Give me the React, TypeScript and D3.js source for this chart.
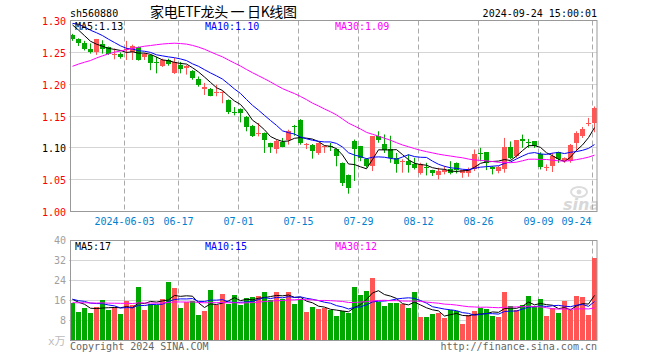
import React from 'react';
import * as d3 from 'd3';

// ---------- data ----------
const dates = [
  '05-21','05-22','05-23','05-24','05-27','05-28','05-29','05-30','05-31',
  '06-03','06-04','06-05','06-06','06-07','06-11','06-12','06-13','06-14','06-17','06-18','06-19','06-20','06-21','06-24','06-25','06-26','06-27','06-28',
  '07-01','07-02','07-03','07-04','07-05','07-08','07-09','07-10','07-11','07-12','07-15','07-16','07-17','07-18','07-19','07-22','07-23','07-24','07-25','07-26','07-29','07-30','07-31',
  '08-01','08-02','08-05','08-06','08-07','08-08','08-09','08-12','08-13','08-14','08-15','08-16','08-19','08-20','08-21','08-22','08-23','08-26','08-27','08-28','08-29','08-30',
  '09-02','09-03','09-04','09-05','09-06','09-09','09-10','09-11','09-12','09-13','09-18','09-19','09-20','09-23','09-24',
];

const opens = [1.277,1.271,1.265,1.255,1.251,1.263,1.258,1.247,1.248,1.253,
  1.251,1.258,1.243,1.246,1.2345,1.229,1.238,1.218,1.230,1.225,
  1.221,1.208,1.193,1.193,1.1855,1.186,1.1755,1.1565,1.161,1.149,
  1.135,1.122,1.123,1.1076,1.098,1.1087,1.1128,1.135,1.144,1.1045,
  1.105,1.092,1.1015,1.1028,1.098,1.076,1.057,1.111,1.1026,1.0828,
  1.0713,1.118,1.1067,1.098,1.0843,1.0785,1.079,1.074,1.0598,1.0692,
  1.065,1.0567,1.062,1.0661,1.0765,1.0598,1.061,1.0661,1.0925,1.0932,
  1.0703,1.0635,1.066,1.1016,1.087,1.1146,1.1095,1.1104,1.091,1.0695,
  1.0713,1.0937,1.079,1.079,1.1078,1.118,1.137,1.139];

const highs = [1.279,1.272,1.268,1.264,1.271,1.269,1.259,1.256,1.250,1.268,
  1.262,1.259,1.249,1.247,1.243,1.240,1.240,1.241,1.235,1.230,
  1.222,1.212,1.202,1.194,1.199,1.189,1.176,1.164,1.162,1.150,
  1.136,1.139,1.124,1.108,1.113,1.1155,1.1285,1.136,1.145,1.1076,
  1.106,1.108,1.104,1.1076,1.099,1.077,1.058,1.113,1.103,1.084,
  1.118,1.126,1.121,1.119,1.092,1.082,1.0896,1.0843,1.0765,1.0765,
  1.0655,1.0687,1.0713,1.079,1.077,1.0645,1.069,1.0974,1.100,1.0935,
  1.0713,1.0715,1.1156,1.110,1.112,1.1208,1.114,1.1106,1.093,1.074,
  1.092,1.094,1.085,1.106,1.126,1.1328,1.147,1.165];

const lows = [1.268,1.260,1.253,1.248,1.246,1.248,1.246,1.239,1.240,1.238,
  1.238,1.237,1.238,1.222,1.217,1.227,1.229,1.216,1.217,1.215,
  1.207,1.196,1.183,1.181,1.181,1.170,1.153,1.151,1.140,1.126,
  1.117,1.118,1.092,1.092,1.091,1.101,1.105,1.119,1.105,1.098,
  1.083,1.089,1.092,1.095,1.071,1.040,1.028,1.048,1.079,1.069,
  1.0635,1.108,1.092,1.0765,1.061,1.061,1.061,1.066,1.058,1.0567,
  1.0557,1.0505,1.0583,1.0583,1.0598,1.053,1.0546,1.0635,1.079,1.065,
  1.0583,1.06,1.061,1.082,1.0844,1.100,1.100,1.100,1.066,1.0635,
  1.062,1.0765,1.0765,1.0765,1.0948,1.1156,1.134,1.1245];

const closes = [1.271,1.265,1.256,1.251,1.271,1.255,1.248,1.248,1.243,1.255,
  1.260,1.238,1.248,1.233,1.2335,1.238,1.232,1.235,1.224,1.229,
  1.209,1.199,1.195,1.182,1.187,1.1875,1.156,1.1555,1.1546,1.133,
  1.118,1.123,1.113,1.102,1.110,1.102,1.127,1.134,1.1076,1.1055,
  1.0946,1.1076,1.1025,1.102,1.0867,1.045,1.037,1.098,1.0843,1.0713,
  1.118,1.113,1.097,1.084,1.074,1.079,1.073,1.0687,1.074,1.0687,
  1.0598,1.0635,1.065,1.061,1.065,1.0645,1.0672,1.0896,1.092,1.0765,
  1.0675,1.0703,1.1016,1.0844,1.112,1.110,1.1088,1.1026,1.070,1.0698,
  1.0869,1.0817,1.084,1.104,1.1234,1.1297,1.139,1.1625];

// volume, in 万 (10k)
const volumes = [15.2,11.4,13.0,11.0,13.4,16.1,12.1,13.4,10.5,15.7,
  14.1,21.4,12.1,14.8,14.4,16.5,23.3,21.1,13.0,15.5,
  15.7,10.1,11.7,20.1,14.4,18.5,14.6,18.1,14.1,17.1,
  17.5,17.7,19.5,16.1,19.3,16.8,19.3,14.8,16.5,11.3,
  13.5,12.5,13.0,12.1,9.7,11.7,11.0,21.4,18.1,19.7,
  24.9,15.5,13.7,15.0,15.0,14.5,13.0,19.3,9.3,9.3,
  10.5,10.9,8.9,12.1,11.7,6.5,10.1,11.7,12.9,12.5,
  9.9,9.3,19.3,13.7,12.1,14.1,17.7,13.7,16.5,9.7,
  12.9,10.9,15.7,12.1,17.7,17.3,10.1,32.9];

// sessions before the visible window (needed for the moving averages)
const priorCloses = [1.16,1.17,1.17,1.15,1.155,1.155,1.17,1.185,1.195,1.19,
  1.195,1.197,1.20,1.195,1.205,1.21,1.22,1.24,1.255,1.27,
  1.28,1.295,1.305,1.31,1.30,1.305,1.30,1.295,1.294];
const priorVolumes = [13,12,14,15,13,16,14,12,15,17,
  14,13,16,15,14,18,15,13,16,14,
  17,16,18,15,16.5,17.4,17,19,13.9];

const tickDates = ['06-03','06-17','07-01','07-15','07-29','08-12','08-26','09-09','09-24'];
const tickLabels = ['2024-06-03','06-17','07-01','07-15','07-29','08-12','08-26','09-09','09-24'];
const priceTicks = [1.30,1.25,1.20,1.15,1.10,1.05,1.00];
const volumeTicks = [40,32,24,16,8];
const maPeriods = [5,10,30];
const maColors = ['#000000','#0000ff','#ff00ff'];
const priceMaLabels = ['MA5:1.13','MA10:1.10','MA30:1.09'];
const volumeMaLabels = ['MA5:17','MA10:15','MA30:12'];

const RED = '#ff5555';
const GREEN = '#00a800';
const MONO = "'DejaVu Sans Mono', monospace";

function movingAverage(prior: number[], values: number[], n: number): number[] {
  const all = prior.concat(values);
  const off = prior.length;
  return values.map((_, i) => d3.mean(all.slice(off + i - n + 1, off + i + 1)) as number);
}

export default function App() {
  const left = 69.5, right = 597.5;
  const x = d3.scaleBand<string>().domain(dates).range([left, right]).paddingInner(1 / 6).paddingOuter(1 / 12);
  const bw = x.bandwidth();
  const cx = (d: string) => (x(d) as number) + bw / 2;
  const yP = d3.scaleLinear().domain([1.0, 1.3]).range([211.5, 20.5]);
  const yV = d3.scaleLinear().domain([0, 40]).range([340.5, 240.5]);
  const crisp = (v: number) => Math.round(v - 0.5) + 0.5;

  const priceMAs = maPeriods.map((n) => movingAverage(priorCloses, closes, n));
  const volMAs = maPeriods.map((n) => movingAverage(priorVolumes, volumes, n));
  const lineP = d3.line<number>().x((_, i) => cx(dates[i])).y((v) => yP(v));
  const lineV = d3.line<number>().x((_, i) => cx(dates[i])).y((v) => yV(v));

  const pTop = yP(1.3), pBot = yP(1.0), vTop = yV(40), vBot = yV(0);

  return (
    <svg width={660} height={360} style={{ position: 'absolute', left: 0, top: 0, background: '#fff' }}
      fontFamily={MONO} fontSize={10}>
      <rect x={0} y={0} width={660} height={360} fill="#fff" />
      <defs>
        <clipPath id="pclip"><rect x={left} y={pTop} width={right - left} height={pBot - pTop} /></clipPath>
        <clipPath id="vclip"><rect x={left} y={vTop} width={right - left} height={vBot - vTop} /></clipPath>
      </defs>

      {/* header */}
      <text x={70} y={16.5} fill="#000">sh560880</text>
      <text x={150} y={17} fill="#000" fontSize={14} fontFamily="'Noto Sans CJK SC', sans-serif"
        textLength={147} lengthAdjust="spacing">家电ETF龙头 一 日K线图</text>
      <text x={597} y={16.5} fill="#000" textAnchor="end">2024-09-24 15:00:01</text>

      {/* watermark */}
      <g clipPath="url(#pclip)" fill="none" stroke="#dcdcdc">
        <ellipse cx={579} cy={192} rx={8} ry={5} strokeWidth={2} />
        <circle cx={579} cy={192} r={2} fill="#dcdcdc" />
        <text x={563} y={210} fontSize={16} fontStyle="italic" fontWeight="bold" fill="#d8d8d8" stroke="none"
          fontFamily="'DejaVu Sans', sans-serif">sina</text>
      </g>

      {/* price grid */}
      {priceTicks.slice(1, -1).map((t) => (
        <line key={'pg' + t} x1={left} x2={right} y1={crisp(yP(t))} y2={crisp(yP(t))} stroke="#aaa" strokeDasharray="1,1" />
      ))}
      {volumeTicks.slice(1).map((t) => (
        <line key={'vg' + t} x1={left} x2={right} y1={crisp(yV(t))} y2={crisp(yV(t))} stroke="#aaa" strokeDasharray="1,1" />
      ))}
      {tickDates.map((d) => {
        const tx = (x(d) as number) + 0.5;
        return (
          <g key={'vt' + d}>
            <line x1={tx} x2={tx} y1={pTop} y2={pBot} stroke="#aaa" strokeDasharray="5,3" />
            <line x1={tx} x2={tx} y1={vTop} y2={vBot} stroke="#aaa" strokeDasharray="5,3" />
          </g>
        );
      })}

      {/* candles */}
      <g clipPath="url(#pclip)">
        {dates.map((d, i) => {
          const up = closes[i] >= opens[i];
          const col = up ? RED : GREEN;
          const y0 = Math.round(yP(Math.max(opens[i], closes[i])));
          const y1 = Math.round(yP(Math.min(opens[i], closes[i])));
          const h = Math.max(1, y1 - y0);
          return (
            <g key={'c' + d}>
              <line x1={cx(d)} x2={cx(d)} y1={yP(highs[i])} y2={yP(lows[i])} stroke={col} />
              <rect x={x(d)} y={y0} width={bw} height={h} fill={col} />
            </g>
          );
        })}
        {priceMAs.map((m, k) => (
          <path key={'pm' + k} d={lineP(m) as string} fill="none" stroke={maColors[k]} strokeWidth={1} />
        ))}
      </g>

      {/* volume */}
      <g clipPath="url(#vclip)">
        {dates.map((d, i) => {
          const up = closes[i] >= opens[i];
          const y0 = Math.round(yV(volumes[i]));
          return <rect key={'v' + d} x={x(d)} y={y0} width={bw} height={Math.round(vBot) - y0} fill={up ? RED : GREEN} />;
        })}
        {volMAs.map((m, k) => (
          <path key={'vm' + k} d={lineV(m) as string} fill="none" stroke={maColors[k]} strokeWidth={1} />
        ))}
      </g>

      {/* frames */}
      <rect x={70.5} y={crisp(pTop)} width={597 - 70.5} height={crisp(pBot) - crisp(pTop)} fill="none" stroke="#999" />
      <rect x={70.5} y={crisp(vTop)} width={597 - 70.5} height={crisp(vBot) - crisp(vTop)} fill="none" stroke="#999" />

      {/* legends */}
      {priceMaLabels.map((s, k) => (
        <text key={'pl' + k} x={75 + 130 * k} y={29.5} fill={maColors[k]}>{s}</text>
      ))}
      {volumeMaLabels.map((s, k) => (
        <text key={'vl' + k} x={75 + 130 * k} y={249.5} fill={maColors[k]}>{s}</text>
      ))}

      {/* axes labels */}
      {priceTicks.map((t) => (
        <text key={'pt' + t} x={66} y={yP(t) + 4.5} textAnchor="end" fill={t === 1.1 ? '#000' : '#ff0000'}>{t.toFixed(2)}</text>
      ))}
      {volumeTicks.map((t) => (
        <text key={'vtl' + t} x={66} y={yV(t) + 3.7} textAnchor="end" fill="#a0a0a0">{t}</text>
      ))}
      <text x={48} y={344.5} fill="#bbb" fontSize={11} fontFamily="'DejaVu Sans Mono', 'Noto Sans CJK SC', monospace">x万</text>
      {tickDates.map((d, k) => {
        const last = k === tickDates.length - 1;
        const tx = (x(d) as number) + 0.5;
        return (
          <text key={'xl' + d} x={last ? tx - 1 : tx} y={225} textAnchor={last ? 'end' : 'middle'} fill="#0080d0">{tickLabels[k]}</text>
        );
      })}

      {/* footer */}
      <text x={70} y={349.5} fill="#666">Copyright 2024 SINA.COM</text>
      <text x={597} y={349.5} fill="#666" textAnchor="end">http://finance.sina.com.cn</text>
    </svg>
  );
}
